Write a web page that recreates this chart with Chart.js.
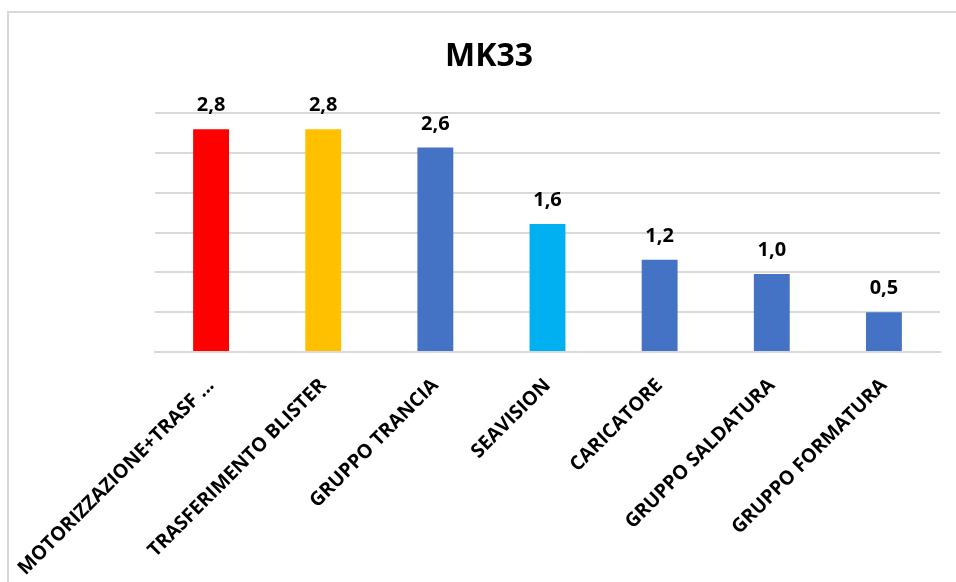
<!DOCTYPE html>
<html>
<head>
<meta charset="utf-8">
<script src="https://cdn.jsdelivr.net/npm/chart.js@4/dist/chart.umd.min.js"></script>
<style>
  html, body { margin: 0; padding: 0; background: #ffffff; }
  #wrap { position: relative; width: 956px; height: 582px; overflow: hidden; }
  #frame { position: absolute; left: 7px; top: 11px; width: 1000px; height: 700px; border: 2px solid #D9D9D9; box-sizing: border-box; }
  #c { position: absolute; left: 0; top: 0; }
</style>
</head>
<body>
<div id="wrap">
  <div id="frame"></div>
  <canvas id="c" width="956" height="582"></canvas>
</div>
<script>
const chartTitle = "MK33";
const categories = [
  "MOTORIZZAZIONE+TRASF ...",
  "TRASFERIMENTO BLISTER",
  "GRUPPO TRANCIA",
  "SEAVISION",
  "CARICATORE",
  "GRUPPO SALDATURA",
  "GRUPPO FORMATURA"
];
const values = [2.8, 2.8, 2.57, 1.61, 1.16, 0.98, 0.5];
const barColors = ["#FF0000", "#FFC000", "#4472C4", "#00B0F0", "#4472C4", "#4472C4", "#4472C4"];
const yMin = 0, yMax = 3, yStep = 0.5;

const fmt = v => v.toFixed(1).replace('.', ',');

const valueLabels = {
  id: 'valueLabels',
  afterDatasetsDraw(chart) {
    const ctx = chart.ctx;
    const meta = chart.getDatasetMeta(0);
    ctx.save();
    ctx.font = 'bold 20px "Open Sans"';
    ctx.fillStyle = '#000000';
    ctx.textAlign = 'center';
    ctx.textBaseline = 'alphabetic';
    meta.data.forEach((el, i) => {
      ctx.fillText(fmt(values[i]), el.x, el.y - 18);
    });
    ctx.restore();
  }
};

new Chart(document.getElementById('c'), {
  type: 'bar',
  data: {
    labels: categories,
    datasets: [{
      data: values,
      backgroundColor: barColors,
      borderWidth: 0,
      barPercentage: 0.32,
      categoryPercentage: 1.0
    }]
  },
  options: {
    responsive: false,
    animation: false,
    devicePixelRatio: 1,
    layout: { padding: { left: 38, right: 16, top: 0, bottom: 0 } },
    plugins: {
      legend: { display: false },
      tooltip: { enabled: false },
      title: {
        display: true,
        text: chartTitle,
        color: '#000000',
        font: { family: '"Open Sans"', size: 32, weight: 'bold', lineHeight: 1.2 },
        padding: { top: 38, bottom: 37 }
      }
    },
    scales: {
      y: {
        min: yMin, max: yMax,
        ticks: { display: false, stepSize: yStep },
        grid: { color: '#D9D9D9', lineWidth: 2, drawTicks: false },
        border: { display: false },
        afterFit(scale) { scale.width = 117; }
      },
      x: {
        ticks: {
          autoSkip: false,
          maxRotation: 45, minRotation: 45,
          color: '#000000',
          padding: 22,
          font: { family: '"Open Sans"', size: 19.5, weight: 'bold' }
        },
        grid: { display: false, drawTicks: false },
        border: { display: true, color: '#D9D9D9', width: 2 },
        afterFit(scale) {
          scale.height = 230;
          scale.paddingLeft = 0;
          scale.paddingRight = 0;
        }
      }
    }
  },
  plugins: [valueLabels]
});
</script>
</body>
</html>
